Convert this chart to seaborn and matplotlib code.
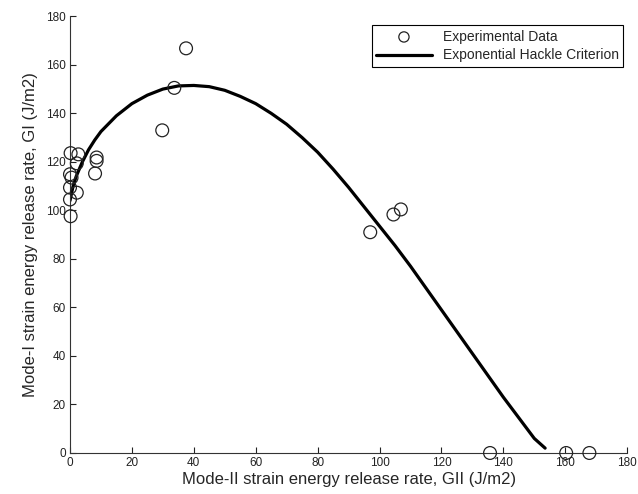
import pandas as pd
import matplotlib
matplotlib.use("Agg")
import matplotlib.pyplot as plt
import seaborn as sns

gii_exp = [0.2, 2.7, 2.2, 0.0, 0.5, 0.0, 2.2, 0.0, 0.2, 8.6, 8.6, 8.1,
           29.8, 33.7, 37.5, 97.0, 104.5, 106.9, 135.7, 160.3, 167.8]
gi_exp = [123.6, 123.1, 119.4, 114.9, 113.5, 109.4, 107.3, 104.5, 97.6, 121.8, 120.4, 115.2,
          133.0, 150.5, 166.8, 91.0, 98.3, 100.4, 0.0, 0.0, 0.0]

# Exponential Hackle criterion curve
gii_fit = [0, 1, 2, 4, 6, 8, 10, 15, 20, 25, 30, 35, 40, 45, 50, 55, 60, 65, 70, 75,
           80, 85, 90, 95, 100, 105, 110, 115, 120, 125, 130, 135, 140, 145, 150, 153.5]
gi_fit = [104, 110, 114, 120, 125, 129, 132.5, 139, 144, 147.5, 150, 151.3, 151.5, 151,
          149.5, 147, 144, 140, 135.5, 130, 124, 117, 109.5, 101.5, 93.5, 85.5, 77,
          68, 59, 50, 41, 32, 23, 14.5, 6, 2]

exp_df = pd.DataFrame({"GII": gii_exp, "GI": gi_exp})
fit_df = pd.DataFrame({"GII": gii_fit, "GI": gi_fit})

sns.set_style("ticks")
plt.rcParams["font.family"] = ["Liberation Sans", "DejaVu Sans"]

fig = plt.figure(figsize=(6.38, 4.94), dpi=100)
ax = fig.add_axes([0.1097, 0.083, 0.8733, 0.884])

sns.scatterplot(data=exp_df, x="GII", y="GI", ax=ax, marker="o", s=85,
                facecolor="none", edgecolor="#222222", linewidth=0.9,
                label="Experimental Data", clip_on=False, zorder=3)
sns.lineplot(data=fit_df, x="GII", y="GI", ax=ax, color="black", linewidth=2.3,
             sort=False, label="Exponential Hackle Criterion", zorder=2)

ax.set_xlim(0, 180)
ax.set_ylim(0, 180)
ax.set_xticks(range(0, 181, 20))
ax.set_yticks(range(0, 181, 20))
ax.tick_params(direction="in", length=4, width=0.8, labelsize=8.5, colors="#222222", pad=3)
for s in ["top", "right"]:
    ax.spines[s].set_visible(False)
for s in ["left", "bottom"]:
    ax.spines[s].set_color("#333333")
    ax.spines[s].set_linewidth(0.8)

ax.set_xlabel("Mode-II strain energy release rate, GII (J/m2)", fontsize=12, labelpad=2)
ax.set_ylabel("Mode-I strain energy release rate, GI (J/m2)", fontsize=12, labelpad=6)

leg = ax.legend(loc="upper right", bbox_to_anchor=(1.005, 0.995), fontsize=10,
                frameon=True, fancybox=False, edgecolor="black", framealpha=1,
                handlelength=4, borderpad=0.3, labelspacing=0.35, markerscale=0.8)
leg.get_frame().set_linewidth(0.8)

fig.savefig("out.png", dpi=100)
